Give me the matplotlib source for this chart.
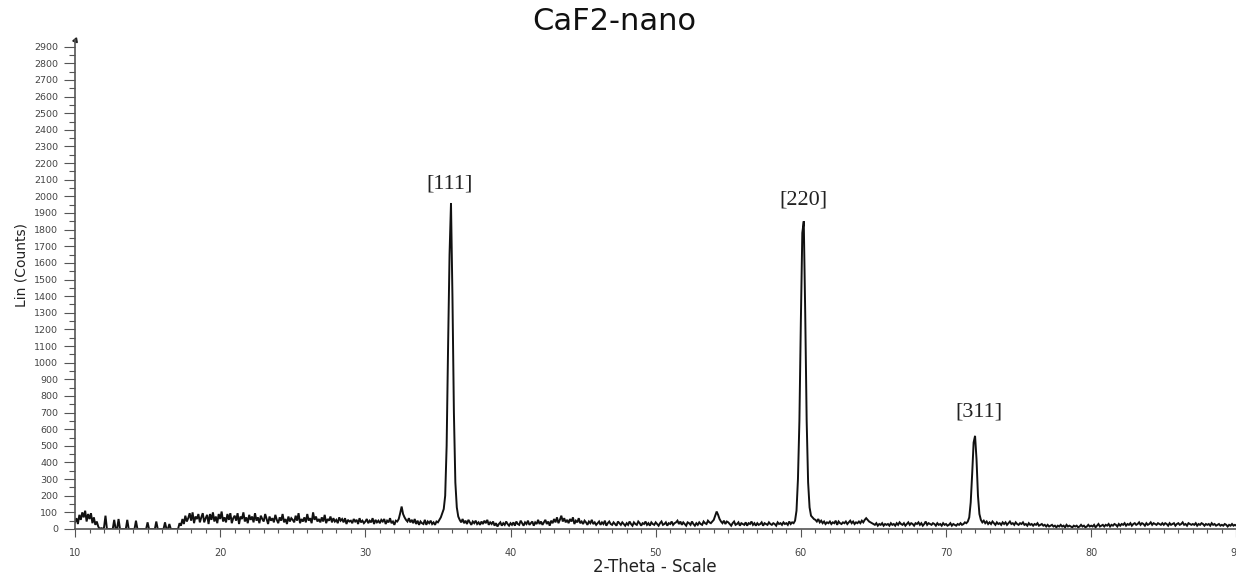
import numpy as np
import matplotlib
matplotlib.use("Agg")
import matplotlib.pyplot as plt
from matplotlib.ticker import MultipleLocator

# ---------------- data ----------------
title = "CaF2-nano"
x_label = "2-Theta - Scale"
y_label = "Lin (Counts)"

two_theta_start = 10.0   # degrees
two_theta_step = 0.1     # degrees per sample

# counts, one row per degree (x.0 ... x.9), 10.0 .. 89.9, then 90.0
counts = [
    40, 65, 30, 85, 55, 100, 70, 110, 45, 90,        # 10
    60, 95, 35, 70, 25, 45, 15, 0, 5, 0,             # 11
    10, 80, 0, 0, 0, 0, 0, 55, 0, 0,                 # 12
    60, 0, 0, 0, 0, 0, 55, 0, 0, 0,                  # 13
    0, 0, 50, 0, 0, 0, 0, 0, 0, 0,                   # 14
    40, 0, 0, 0, 0, 0, 45, 0, 0, 0,                  # 15
    0, 0, 40, 0, 0, 30, 0, 0, 0, 0,                  # 16
    0, 0, 35, 20, 60, 30, 80, 45, 65, 95,            # 17
    50, 100, 35, 75, 60, 90, 40, 70, 95, 40,         # 18
    65, 85, 30, 90, 55, 100, 45, 75, 35, 90,         # 19
    60, 105, 45, 70, 40, 90, 55, 95, 35, 65,         # 20
    80, 50, 95, 30, 75, 60, 100, 45, 70, 35,         # 21
    85, 55, 75, 40, 95, 50, 70, 35, 80, 60,          # 22
    45, 90, 60, 30, 75, 50, 65, 40, 85, 55,          # 23
    35, 70, 50, 90, 40, 60, 30, 75, 45, 65,          # 24
    55, 40, 80, 50, 95, 35, 60, 45, 70, 40,          # 25
    90, 50, 65, 35, 100, 55, 75, 45, 60, 40,         # 26
    70, 45, 85, 35, 60, 50, 75, 40, 65, 45,          # 27
    55, 35, 70, 50, 60, 40, 65, 30, 55, 45,          # 28
    50, 35, 60, 45, 55, 30, 65, 40, 50, 35,          # 29
    45, 60, 35, 50, 40, 65, 30, 55, 40, 50,          # 30
    35, 55, 45, 60, 30, 50, 40, 65, 35, 45,          # 31
    25, 50, 45, 60, 95, 135, 90, 70, 55, 45,         # 32
    65, 40, 55, 35, 60, 30, 50, 25, 45, 35,          # 33
    30, 55, 25, 45, 35, 50, 30, 40, 25, 45,          # 34
    40, 55, 70, 95, 120, 200, 500, 1100, 1650, 1960, # 35  [111]
    1400, 700, 280, 130, 75, 55, 40, 60, 35, 50,     # 36
    30, 55, 40, 25, 45, 35, 50, 30, 40, 25,          # 37
    45, 30, 50, 35, 55, 25, 40, 30, 45, 20,          # 38
    35, 15, 30, 40, 20, 35, 25, 45, 30, 20,          # 39
    35, 25, 40, 20, 45, 30, 25, 50, 35, 20,          # 40
    40, 30, 50, 25, 35, 45, 20, 40, 30, 55,          # 41
    30, 45, 25, 40, 55, 30, 45, 20, 50, 35,          # 42
    60, 40, 70, 35, 55, 80, 45, 65, 40, 55,          # 43
    35, 60, 45, 70, 30, 50, 40, 65, 35, 45,          # 44
    30, 50, 40, 25, 45, 35, 55, 30, 40, 25,          # 45
    35, 45, 25, 40, 30, 50, 20, 35, 45, 30,          # 46
    25, 40, 30, 20, 45, 35, 25, 40, 30, 20,          # 47
    35, 25, 45, 30, 20, 40, 30, 25, 45, 35,          # 48
    20, 35, 30, 45, 25, 35, 20, 40, 30, 25,          # 49
    40, 30, 20, 35, 45, 25, 30, 40, 20, 35,          # 50
    30, 45, 25, 35, 40, 50, 30, 45, 25, 40,          # 51
    30, 20, 40, 35, 25, 45, 30, 20, 35, 25,          # 52
    40, 30, 25, 45, 35, 30, 50, 40, 35, 45,          # 53
    55, 80, 105, 85, 60, 45, 35, 50, 30, 45,         # 54
    40, 30, 20, 35, 45, 25, 30, 40, 20, 35,          # 55
    30, 25, 40, 20, 35, 30, 45, 25, 35, 20,          # 56
    35, 25, 30, 40, 20, 35, 30, 25, 40, 30,          # 57
    25, 35, 30, 20, 40, 30, 35, 25, 40, 30,          # 58
    35, 25, 45, 30, 40, 35, 50, 110, 300, 650,       # 59
    1250, 1780, 1850, 1300, 650, 280, 130, 80, 70, 60,  # 60  [220]
    55, 45, 60, 40, 50, 35, 45, 30, 40, 35,          # 61
    45, 30, 40, 35, 50, 25, 45, 35, 30, 40,          # 62
    35, 45, 30, 40, 50, 35, 45, 30, 40, 35,          # 63
    45, 35, 50, 40, 55, 65, 55, 45, 40, 35,          # 64
    30, 25, 35, 20, 30, 25, 35, 20, 30, 25,          # 65
    30, 20, 35, 25, 30, 20, 35, 25, 40, 30,          # 66
    25, 35, 20, 30, 40, 25, 35, 30, 20, 35,          # 67
    30, 40, 25, 35, 20, 30, 45, 25, 35, 30,          # 68
    25, 35, 30, 20, 35, 25, 30, 20, 35, 25,          # 69
    30, 20, 25, 35, 20, 30, 25, 20, 30, 25,          # 70
    35, 25, 30, 40, 35, 45, 70, 160, 330, 520,       # 71
    560, 420, 200, 90, 55, 40, 50, 35, 45, 30,       # 72  [311]
    40, 30, 45, 35, 25, 40, 30, 35, 25, 40,          # 73
    30, 40, 25, 35, 45, 30, 35, 25, 40, 30,          # 74
    25, 35, 30, 40, 25, 30, 20, 35, 25, 30,          # 75
    20, 30, 25, 35, 20, 25, 30, 20, 25, 15,          # 76
    25, 15, 20, 25, 15, 20, 10, 20, 15, 25,          # 77
    15, 20, 10, 25, 15, 20, 15, 10, 20, 15,          # 78
    20, 10, 15, 25, 15, 20, 10, 15, 25, 15,          # 79
    20, 15, 25, 10, 20, 30, 15, 20, 25, 15,          # 80
    25, 20, 30, 15, 25, 20, 30, 25, 15, 30,          # 81
    20, 30, 25, 35, 20, 30, 25, 35, 20, 30,          # 82
    35, 25, 30, 40, 25, 35, 30, 20, 35, 25,          # 83
    30, 40, 25, 35, 30, 25, 35, 30, 25, 35,          # 84
    25, 35, 30, 20, 35, 25, 30, 35, 20, 30,          # 85
    35, 25, 30, 40, 25, 30, 20, 35, 30, 25,          # 86
    30, 25, 35, 20, 30, 25, 35, 30, 20, 30,          # 87
    25, 30, 20, 35, 25, 30, 20, 25, 30, 20,          # 88
    25, 20, 30, 25, 15, 25, 20, 30, 20, 25,          # 89
    20,                                              # 90
]

peak_labels = ["[111]", "[220]", "[311]"]
peak_label_x = [35.8, 60.2, 72.3]
peak_label_y = [2075, 1980, 705]

# ---------------- figure ----------------
W, H = 1236, 576
fig = plt.figure(figsize=(W / 100, H / 100), dpi=100)

left_px, right_px = 75, 1240
bottom_px, top_px = 529, 40
ax = fig.add_axes([left_px / W, (H - bottom_px) / H,
                   (right_px - left_px) / W, (bottom_px - top_px) / H])

two_theta = two_theta_start + two_theta_step * np.arange(len(counts))
ax.plot(two_theta, counts, color="#111111", lw=1.4, solid_joinstyle="miter")

ax.set_xlim(10, 90.25)
ax.set_ylim(0, 2940)

for s in ["top", "right"]:
    ax.spines[s].set_visible(False)
for s in ["left", "bottom"]:
    ax.spines[s].set_color("#555555")
    ax.spines[s].set_linewidth(1.2)

ax.xaxis.set_major_locator(MultipleLocator(10))
ax.xaxis.set_minor_locator(MultipleLocator(1))
ax.yaxis.set_major_locator(MultipleLocator(100))
ax.yaxis.set_minor_locator(MultipleLocator(50))
ax.set_yticks(np.arange(0, 3000, 100))

ax.tick_params(axis="both", which="major", direction="out", colors="#555555",
               labelcolor="#444444")
ax.tick_params(axis="y", which="major", length=8, width=0.8, pad=4, labelsize=6.8)
ax.tick_params(axis="y", which="minor", length=4, width=0.8, colors="#555555")
ax.tick_params(axis="x", which="major", length=6, width=0.8, pad=8, labelsize=7)
ax.tick_params(axis="x", which="minor", length=3, width=0.8, colors="#555555")

# small arrowhead at top of y axis
ax.plot([0], [1], marker=(3, 0, -20), ms=4, color="#222222",
        transform=ax.transAxes, clip_on=False)

for lab, lx, ly in zip(peak_labels, peak_label_x, peak_label_y):
    ax.text(lx, ly, lab, ha="center", va="center", fontsize=16,
            family="Liberation Serif", color="#222222")

fig.text(614 / W, 1 - 21 / H, title, ha="center", va="center",
         fontsize=22, family="DejaVu Sans", color="#111111")
fig.text(655 / W, 1 - 567 / H, x_label, ha="center", va="center",
         fontsize=12, family="DejaVu Sans", color="#222222")
fig.text(22 / W, 1 - 265 / H, y_label, ha="center", va="center",
         rotation=90, fontsize=10, family="DejaVu Sans", color="#222222")

fig.savefig("out.png", dpi=100)
